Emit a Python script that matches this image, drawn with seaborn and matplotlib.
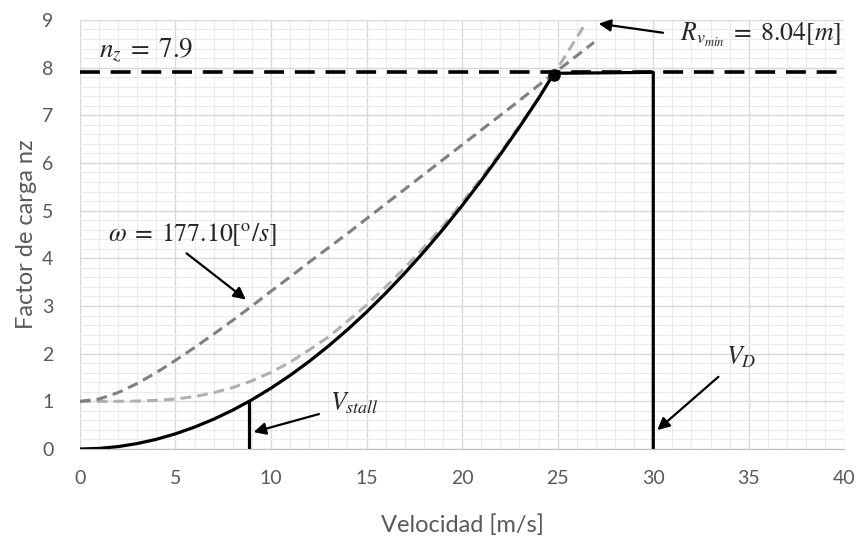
import matplotlib
matplotlib.use("Agg")
import matplotlib.pyplot as plt
import seaborn as sns
import pandas as pd
from matplotlib.ticker import MultipleLocator

# ----------------------------
# Datos
# ----------------------------
v_env = [0, 1, 2, 3, 4, 5, 6, 7, 8, 8.85, 9, 10, 11, 12, 13, 14, 15, 16, 17, 18,
         19, 20, 21, 22, 23, 24, 24.8, 30, 30]
n_env = [0, 0.013, 0.051, 0.115, 0.204, 0.319, 0.46, 0.626, 0.817, 1.0, 1.034, 1.277,
         1.545, 1.839, 2.158, 2.503, 2.873, 3.269, 3.69, 4.137, 4.609, 5.107, 5.631,
         6.18, 6.754, 7.354, 7.88, 7.9, 0]

v_omega = [0, 1, 2, 3, 4, 5, 6, 7, 8, 9, 10, 11, 12, 13, 14, 15, 16, 17, 18, 19, 20,
           21, 22, 23, 24, 25, 26, 26.9]
n_omega = [1, 1.049, 1.183, 1.375, 1.604, 1.859, 2.13, 2.41, 2.7, 3.0, 3.31, 3.61, 3.92,
           4.22, 4.52, 4.83, 5.14, 5.45, 5.76, 6.07, 6.38, 6.69, 7.0, 7.31, 7.63, 7.94,
           8.25, 8.53]

v_radio = [0, 1, 2, 3, 4, 5, 6, 7, 8, 9, 10, 11, 12, 13, 14, 15, 16, 17, 18, 19, 20,
           21, 22, 23, 24, 25, 26, 26.5]
n_radio = [1, 1.0, 1.001, 1.007, 1.02, 1.049, 1.1, 1.18, 1.29, 1.43, 1.61, 1.82, 2.08,
           2.35, 2.68, 3.02, 3.4, 3.8, 4.23, 4.68, 5.17, 5.68, 6.22, 6.78, 7.37, 7.99,
           8.63, 8.96]

v_stall = 8.85
v_d = 30
nz_max = 7.9
punto = (24.8, 7.85)

df_env = pd.DataFrame({"V": v_env, "n": n_env})
df_omega = pd.DataFrame({"V": v_omega, "n": n_omega})
df_radio = pd.DataFrame({"V": v_radio, "n": n_radio})

# ----------------------------
# Estilo
# ----------------------------
sns.set_style("white")
plt.rcParams["font.family"] = ["Lato", "DejaVu Sans"]
plt.rcParams["mathtext.fontset"] = "stix"

fig = plt.figure(figsize=(8.59, 5.53), dpi=100)
ax = fig.add_axes([0.093, 0.188, 0.89, 0.776])

ax.set_xlim(0, 40)
ax.set_ylim(0, 9)
ax.xaxis.set_major_locator(MultipleLocator(5))
ax.xaxis.set_minor_locator(MultipleLocator(1))
ax.yaxis.set_major_locator(MultipleLocator(1))
ax.yaxis.set_minor_locator(MultipleLocator(0.2))
ax.grid(True, which="major", color="#d9d9d9", linewidth=1.0)
ax.grid(True, which="minor", color="#ebebeb", linewidth=0.8)
ax.set_axisbelow(True)
for s in ["top", "left", "right"]:
    ax.spines[s].set_visible(False)
ax.spines["bottom"].set_color("#bfbfbf")
ax.tick_params(which="both", length=0, labelsize=14, labelcolor="#595959")
ax.tick_params(axis="x", pad=15)
ax.tick_params(axis="y", pad=19)

# curvas
sns.lineplot(data=df_radio, x="V", y="n", sort=False, estimator=None, ax=ax,
             color="#b0b0b0", linewidth=2.2, linestyle=(0, (3.5, 2)))
sns.lineplot(data=df_omega, x="V", y="n", sort=False, estimator=None, ax=ax,
             color="#808080", linewidth=2.2, linestyle=(0, (3.5, 2)))
sns.lineplot(data=df_env, x="V", y="n", sort=False, estimator=None, ax=ax,
             color="black", linewidth=2.3)
ax.plot([v_stall, v_stall], [0, 1], color="black", linewidth=2.3)
ax.axhline(nz_max, color="black", linewidth=2.6, linestyle=(0, (5.5, 3)))
ax.plot(*punto, "o", color="black", markersize=8, zorder=5)

# anotaciones
fs = 18.5
ax.text(1.0, 8.37, r"$n_z\;=\;7.9$", fontsize=19.5, va="center", ha="left")
ax.annotate(r"$\omega\;=\;177.10[^{\rm o}/s]$", xy=(8.8, 3.1), xytext=(1.45, 4.49),
            fontsize=fs, va="center", ha="left",
            arrowprops=dict(arrowstyle="-|>", color="black", lw=1.6, mutation_scale=18,
                            relpos=(0.43, 0)))
ax.annotate(r"$R_{v_{min}}\;=\;8.04[m]$", xy=(27.0, 8.93), xytext=(31.4, 8.68),
            fontsize=fs, va="center", ha="left",
            arrowprops=dict(arrowstyle="-|>", color="black", lw=1.6, mutation_scale=18,
                            relpos=(0, 0.5), shrinkA=10))
ax.annotate(r"$V_{stall}$", xy=(8.95, 0.34), xytext=(13.1, 0.96),
            fontsize=fs, va="center", ha="left",
            arrowprops=dict(arrowstyle="-|>", color="black", lw=1.6, mutation_scale=18,
                            relpos=(0, 0.2), shrinkA=6))
ax.annotate(r"$V_D$", xy=(30.1, 0.36), xytext=(33.8, 1.92),
            fontsize=fs, va="center", ha="left",
            arrowprops=dict(arrowstyle="-|>", color="black", lw=1.6, mutation_scale=18,
                            relpos=(0, 0), shrinkA=4))

ax.set_xlabel("Velocidad [m/s]", fontsize=17, color="#595959", labelpad=20)
ax.set_ylabel("Factor de carga nz", fontsize=17, color="#595959", labelpad=4)

fig.savefig("out.png", dpi=100)
